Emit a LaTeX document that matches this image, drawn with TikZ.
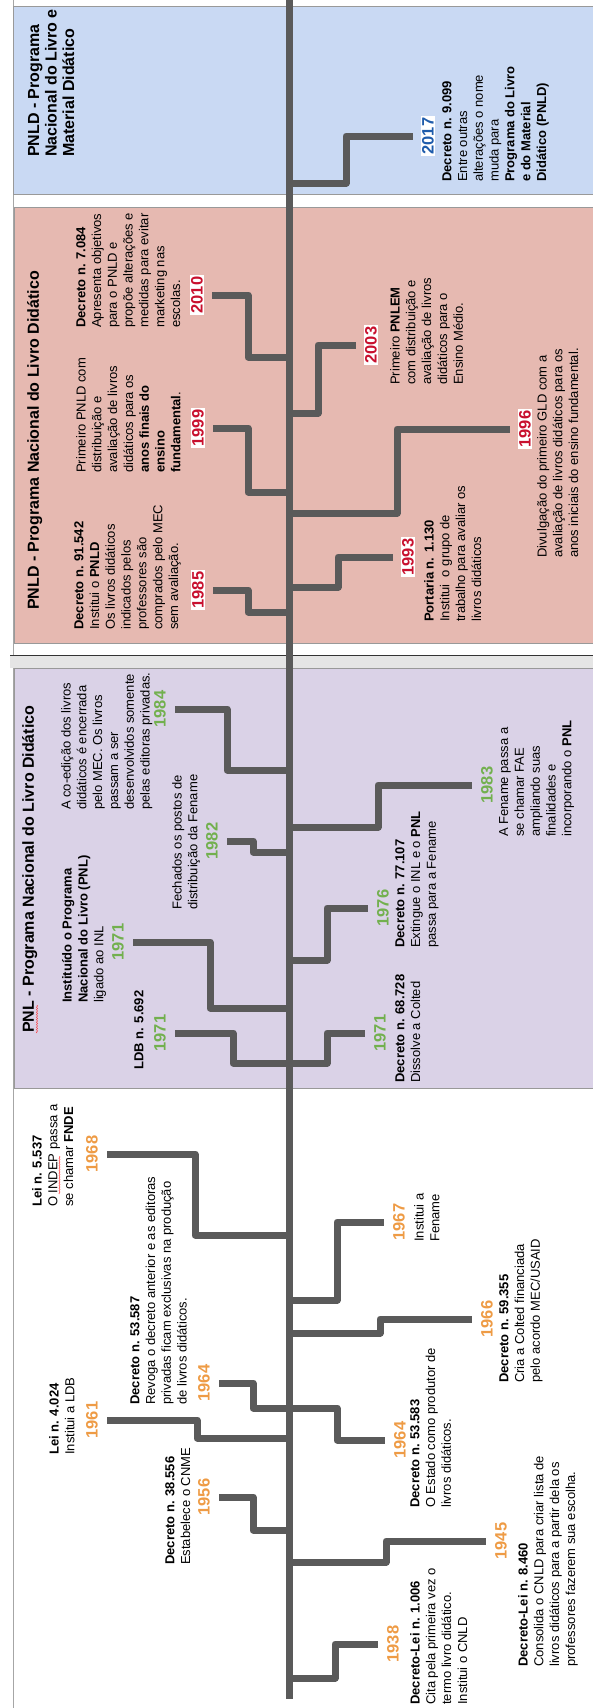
\documentclass[tikz,border=0pt]{standalone}
\usepackage{fontspec}
\setmainfont{Liberation Sans}
\usetikzlibrary{positioning}
\usetikzlibrary{decorations.pathmorphing}

\definecolor{cinzaramo}{HTML}{5A5A5A}
\definecolor{laranja}{HTML}{EE9B45}
\definecolor{verde}{HTML}{72B04E}
\definecolor{vermelho}{HTML}{C8102E}
\definecolor{azul}{HTML}{1F5CAB}
\definecolor{fundoazul}{HTML}{C9D9F3}
\definecolor{fundorosa}{HTML}{E6B9B1}
\definecolor{fundolilas}{HTML}{DAD2E7}

\tikzset{
    eixo/.style={draw=cinzaramo, line width=7pt},
    ramo/.style={draw=cinzaramo, line width=7pt, line join=round, shorten >=7pt},
    ano/.style={rotate=90, inner sep=1.5pt, font=\fontsize{16.5}{18}\selectfont\bfseries},
    anolaranja/.style={ano, text=laranja},
    anoverde/.style={ano, text=verde},
    anovermelho/.style={ano, text=vermelho, fill=white},
    anoazul/.style={ano, text=azul, fill=white},
    nota/.style={rotate=90, anchor=north west, align=left, inner sep=0pt, font=\fontsize{13}{15.8}\selectfont},
    titulo/.style={rotate=90, anchor=north west, align=left, inner sep=0pt, font=\fontsize{16}{17.5}\selectfont\bfseries},
    painel/.style={draw=black!40, line width=0.8pt},
    sublinhado/.style={draw=red!80, line width=0.5pt, decorate, decoration={snake, amplitude=0.6pt, segment length=2.5pt}}
}

\begin{document}
\begin{tikzpicture}[x=1pt, y=-1pt]
        \useasboundingbox (0,0) rectangle (593,1708);
        \draw[black!35, line width=0.6pt] (13,0) -- (13,1708);

        \fill[fundoazul] (13,6) rectangle (593,194);
        \draw[painel] (593,6) -- (13,6) -- (13,194) -- (593,194);
        \fill[fundorosa] (14,207) rectangle (593,643);
        \draw[painel] (593,207) -- (14,207) -- (14,643) -- (593,643);
        \fill[black!10] (10,655) rectangle (593,668);
        \draw[black!80, line width=0.8pt] (10,655) -- (593,655);
        \fill[fundolilas] (14,668) rectangle (593,1088);
        \draw[painel] (593,668) -- (14,668) -- (14,1088) -- (593,1088);

        \node[titulo] (pnlnovo) at (28,157) {PNLD - Programa\\Nacional do Livro e\\Material Didático};
        \node[titulo] (pnld) at (27,610) {PNLD - Programa Nacional do Livro Didático};
        \node[titulo] (pnl) at (22,1033) {PNL - Programa Nacional do Livro Didático};
        \draw[sublinhado] (37,1033) -- (37,1005);

        \coordinate (topo) at (289,0);
        \coordinate (base) at (289,1699);
        \draw[eixo] (topo) -- (base);

        \coordinate (e1938) at (289,1678);
        \node[anolaranja] (a1938) at (393,1644) {1938};
        \node[nota] (t1938) at (410,1705) {\textbf{Decreto-Lei n. 1.006}\\Cita pela primeira vez o\\termo livro didático.\\Institui o CNLD};
        \draw[ramo] (e1938) -- ++(46,0) |- (a1938.north);

        \coordinate (e1945) at (289,1562);
        \node[anolaranja] (a1945) at (501,1541) {1945};
        \node[nota] (t1945) at (518,1667) {\textbf{Decreto-Lei n. 8.460}\\Consolida o CNLD para criar lista de\\livros didáticos para a partir dela os\\professores fazerem sua escolha.};
        \draw[ramo] (e1945) -- ++(97,0) |- (a1945.north);

        \coordinate (e1956) at (289,1530);
        \node[anolaranja] (a1956) at (204,1497) {1956};
        \node[nota] (t1956) at (165,1565) {\textbf{Decreto n. 38.556}\\Estabelece o CNME};
        \draw[ramo] (e1956) -- ++(-36,0) |- (a1956.south);

        \coordinate (e1961) at (289,1438);
        \node[anolaranja] (a1961) at (92,1420) {1961};
        \node[nota] (t1961) at (49,1455) {\textbf{Lei n. 4.024}\\Institui a LDB};
        \draw[ramo] (e1961) -- ++(-92,0) |- (a1961.south);

        \coordinate (e1964) at (289,1408);
        \node[anolaranja] (a1964) at (204,1383) {1964};
        \node[nota] (t1964) at (130,1405) {\textbf{Decreto n. 53.587}\\Revoga o decreto anterior e as editoras\\privadas ficam exclusivas na produção\\de livros didáticos.};
        \draw[ramo] (e1964) -- ++(-36,0) |- (a1964.south);

        \node[anolaranja] (b1964) at (400,1440) {1964};
        \node[nota] (u1964) at (410,1508) {\textbf{Decreto n. 53.583}\\O Estado como produtor de\\livros didáticos.};
        \draw[ramo] (e1964) -- ++(48,0) |- (b1964.north);

        \coordinate (e1966) at (289,1333);
        \node[anolaranja] (a1966) at (487,1319) {1966};
        \node[nota] (t1966) at (499,1383) {\textbf{Decreto n. 59.355}\\Cria a Colted financiada\\pelo acordo MEC/USAID};
        \draw[ramo] (e1966) -- ++(91,0) |- (a1966.north);

        \coordinate (e1967) at (289,1300);
        \node[anolaranja] (a1967) at (399,1222) {1967};
        \node[nota] (t1967) at (414,1242) {Institui a\\Fename};
        \draw[ramo] (e1967) -- ++(48,0) |- (a1967.north);

        \coordinate (e1968) at (289,1235);
        \node[anolaranja] (a1968) at (92,1154) {1968};
        \node[nota] (t1968) at (32,1207) {\textbf{Lei n. 5.537}\\O INDEP passa a\\se chamar \textbf{FNDE}};
        \draw[sublinhado] (59.5,1194) -- (59.5,1156);
        \draw[ramo] (e1968) -- ++(-94,0) |- (a1968.south);

        \coordinate (e1971) at (289,1063);
        \node[anoverde] (a1971) at (160,1033) {1971};
        \node[nota] (t1971) at (134,1070) {\textbf{LDB n. 5.692}};
        \draw[ramo] (e1971) -- ++(-56,0) |- (a1971.south);

        \node[anoverde] (b1971) at (380,1033) {1971};
        \node[nota] (u1971) at (395,1083) {\textbf{Decreto n. 68.728}\\Dissolve a Colted};
        \draw[ramo] (e1971) -- ++(38,0) |- (b1971.north);

        \coordinate (f1971) at (289,1008);
        \node[anoverde] (c1971) at (118,942) {1971};
        \node[nota] (v1971) at (62,1003) {\textbf{Instituído o Programa}\\\textbf{Nacional do Livro (PNL)}\\ligado ao INL};
        \draw[ramo] (f1971) -- ++(-79,0) |- (c1971.south);

        \coordinate (e1976) at (289,960);
        \node[anoverde] (a1976) at (383,908) {1976};
        \node[nota] (t1976) at (395,948) {\textbf{Decreto n. 77.107}\\Extingue o INL e o \textbf{PNL}\\passa para a Fename};
        \draw[ramo] (e1976) -- ++(38,0) |- (a1976.north);

        \coordinate (e1982) at (289,852);
        \node[anoverde] (a1982) at (212,841) {1982};
        \node[nota] (t1982) at (172,910) {Fechados os postos de\\distribuição da Fename};
        \draw[ramo] (e1982) -- ++(-36,0) |- (a1982.south);

        \coordinate (e1983) at (289,827);
        \node[anoverde] (a1983) at (487,785) {1983};
        \node[nota] (t1983) at (499,837) {A Fename passa a\\se chamar FAE\\ampliando suas\\finalidades e\\incorporando o \textbf{PNL}};
        \draw[ramo] (e1983) -- ++(89,0) |- (a1983.north);

        \coordinate (e1984) at (289,770);
        \node[anoverde] (a1984) at (160,709) {1984};
        \node[nota] (t1984) at (61,810) {A co-edição dos livros\\didáticos é encerrada\\pelo MEC. Os livros\\passam a ser\\desenvolvidos somente\\pelas editoras privadas.};
        \draw[ramo] (e1984) -- ++(-62,0) |- (a1984.south);

        \coordinate (e1985) at (289,612);
        \node[anovermelho] (a1985) at (198,590) {1985};
        \node[nota] (t1985) at (74,630) {\textbf{Decreto n. 91.542}\\Institui o \textbf{PNLD}\\Os livros didáticos\\indicados pelos\\professores são\\comprados pelo MEC\\sem avaliação.};
        \draw[ramo] (e1985) -- ++(-41,0) |- (a1985.south);

        \coordinate (e1993) at (289,587);
        \node[anovermelho] (a1993) at (408,557) {1993};
        \node[nota] (t1993) at (424,622) {\textbf{Portaria n. 1.130}\\Institui\ \ o grupo de\\trabalho para avaliar os\\livros didáticos};
        \draw[ramo] (e1993) -- ++(49,0) |- (a1993.north);

        \coordinate (e1996) at (289,513);
        \node[anovermelho] (a1996) at (525,429) {1996};
        \node[nota] (t1996) at (537,558) {Divulgação do primeiro GLD com a\\avaliação de livros didáticos para os\\anos iniciais do ensino fundamental.};
        \draw[ramo] (e1996) -- ++(108,0) |- (a1996.north);

        \coordinate (e1999) at (289,492);
        \node[anovermelho] (a1999) at (198,428) {1999};
        \node[nota] (t1999) at (76,473) {Primeiro PNLD com\\distribuição e\\avaliação de livros\\didáticos para os\\\textbf{anos finais do}\\\textbf{ensino}\\\textbf{fundamental}.};
        \draw[ramo] (e1999) -- ++(-41,0) |- (a1999.south);

        \coordinate (e2003) at (289,413);
        \node[anovermelho] (a2003) at (371,345) {2003};
        \node[nota] (t2003) at (390,385) {Primeiro \textbf{PNLEM}\\com distribuição e\\avaliação de livros\\didáticos para o\\Ensino Médio.};
        \draw[ramo] (e2003) -- ++(29,0) |- (a2003.north);

        \coordinate (e2010) at (289,357);
        \node[anovermelho] (a2010) at (197,295) {2010};
        \node[nota] (t2010) at (76,328) {\textbf{Decreto n. 7.084}\\Apresenta objetivos\\para o PNLD e\\propõe alterações e\\medidas para evitar\\marketing nas\\escolas.};
        \draw[ramo] (e2010) -- ++(-41,0) |- (a2010.south);

        \coordinate (e2017) at (289,183);
        \node[anoazul] (a2017) at (428,136) {2017};
        \node[nota] (t2017) at (442,182) {\textbf{Decreto n. 9.099}\\Entre outras\\alterações o nome\\muda para\\\textbf{Programa do Livro}\\\textbf{e do Material}\\\textbf{Didático (PNLD)}};
        \draw[ramo] (e2017) -- ++(57,0) |- (a2017.north);
\end{tikzpicture}
\end{document}
